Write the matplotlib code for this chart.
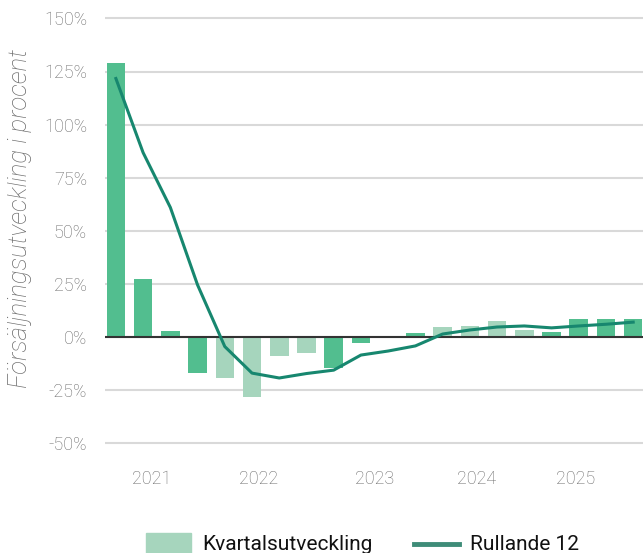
import matplotlib
matplotlib.use("Agg")
import matplotlib.pyplot as plt
import numpy as np
from matplotlib.patches import Rectangle
from matplotlib.lines import Line2D
from matplotlib.ticker import FuncFormatter

# Data
quarters = [f"{y} Q{q}" for y in range(2021, 2026) for q in range(1, 5)]
kvartal = [129, 27.4, 2.8, -17, -19.5, -28.3, -9, -7.5, -14.6, -3, 0.4, 1.8,
           4.5, 5, 7.5, 3.5, 2.2, 8.3, 8.3, 8.3]
rullande = [121.7, 86.8, 61, 24.5, -4.5, -17, -19.3, -17.2, -15.6, -8.5, -6.6, -4.2,
            1.4, 3.3, 4.7, 5.2, 4.3, 5.2, 6, 7]
year_labels = ["2021", "2022", "2023", "2024", "2025"]
year_label_pos = [1.3, 5.25, 9.5, 13.25, 16.9]
yticks = [-50, -25, 0, 25, 50, 75, 100, 125, 150]

dark = "#52BE8F"
light = "#A6D5BD"
line_c = "#17876F"
bar_colors = [dark if (i // 4) % 2 == 0 else light for i in range(len(kvartal))]

FONT = "Roboto"
plt.rcParams["font.family"] = [FONT, "DejaVu Sans"]
txt_gray = "#6a6a6a"

fig = plt.figure(figsize=(6.43, 5.53), dpi=100)
W, H = 643, 553
ax_left, ax_right = 105, 643
y0px, scale = 337, 2.124
ylim = (-55, 153)
top_px = y0px - scale * ylim[1]
bot_px = y0px - scale * ylim[0]
ax = fig.add_axes([ax_left / W, 1 - bot_px / H, (ax_right - ax_left) / W, (bot_px - top_px) / H])

x = np.arange(len(kvartal))
ax.bar(x, kvartal, width=0.68, color=bar_colors, zorder=2)
ax.plot(x, rullande, color=line_c, lw=2.2, zorder=4, solid_joinstyle="round")
ax.axhline(0, color="#333333", lw=1.5, zorder=3)

ax.set_ylim(*ylim)
ax.set_xlim(-0.4, 19.36)
ax.set_yticks(yticks)
ax.yaxis.set_major_formatter(FuncFormatter(lambda v, p: f"{int(v)}%"))
ax.grid(axis="y", color="#d9d9d9", lw=1.5, zorder=0)
ax.set_axisbelow(True)
for s in ax.spines.values():
    s.set_visible(False)
ax.tick_params(axis="y", length=0, pad=13, labelsize=13, labelcolor=txt_gray)
ax.set_xticks(year_label_pos)
ax.set_xticklabels(year_labels)
ax.tick_params(axis="x", length=0, pad=12, labelsize=13, labelcolor=txt_gray)
for t in ax.get_xticklabels() + ax.get_yticklabels():
    t.set_fontweight("light")

fig.text(20 / W, 1 - 218 / H, "Försäljningsutveckling i procent", rotation=90,
         ha="center", va="center", fontsize=18.5, style="italic", fontweight="light",
         color=txt_gray)

# Legend (manual)
fig.add_artist(Rectangle((146 / W, 0), 45 / W, 20 / H, transform=fig.transFigure,
                         color=light))
fig.text(202 / W, 1 - 550 / H, "Kvartalsutveckling", fontsize=15, color="#111111",
         ha="left", va="baseline")
fig.add_artist(Line2D([414 / W, 459 / W], [1 - 544 / H, 1 - 544 / H],
                      transform=fig.transFigure, color="#3E8C78", lw=3.5))
fig.text(470 / W, 1 - 550 / H, "Rullande 12", fontsize=15, color="#111111",
         ha="left", va="baseline")

fig.savefig("out.png", dpi=100)
